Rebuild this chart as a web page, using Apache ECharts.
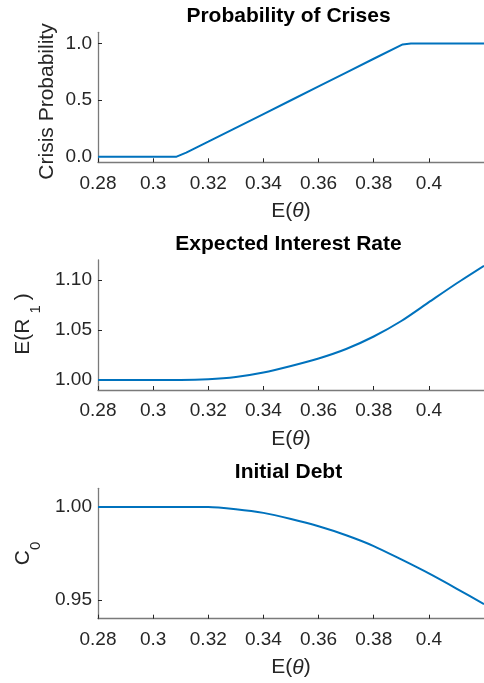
<!DOCTYPE html>
<html>
<head>
<meta charset="utf-8">
<script src="https://cdn.jsdelivr.net/npm/echarts@6/dist/echarts.min.js"></script>
<style>
  html, body { margin: 0; padding: 0; background: #ffffff; }
  #chart { width: 484px; height: 683px; }
</style>
</head>
<body>
<div id="chart"></div>
<script>
// Shared tick positions along E(theta)
const thetaTicks = [0.28, 0.30, 0.32, 0.34, 0.36, 0.38, 0.40];

// Panel 1: probability of crises
const thetaCrisis = [0.28, 0.29, 0.30, 0.3085, 0.312, 0.32, 0.33, 0.34, 0.35, 0.36, 0.37, 0.38, 0.3905, 0.3935, 0.40, 0.41, 0.42];
const crisisProb  = [0, 0, 0, 0, 0.035, 0.132, 0.255, 0.377, 0.499, 0.621, 0.744, 0.866, 0.993, 1.0, 1.0, 1.0, 1.0];
const crisisTicks = [0, 0.5, 1.0];

// Panels 2 and 3 share one theta grid
const thetaGrid    = [0.28, 0.29, 0.30, 0.31, 0.32, 0.33, 0.34, 0.35, 0.36, 0.37, 0.38, 0.39, 0.40, 0.41, 0.42];
const expectedRate = [1.0, 1.0, 1.0, 1.0, 1.0007, 1.003, 1.0075, 1.014, 1.0215, 1.031, 1.0435, 1.059, 1.0778, 1.0965, 1.1142];
const rateTicks    = [1.00, 1.05, 1.10];

const initialDebt  = [1.0, 1.0, 1.0, 1.0, 1.0, 0.9988, 0.9968, 0.9935, 0.9896, 0.9848, 0.979, 0.9718, 0.9643, 0.9562, 0.9478];
const debtTicks    = [0.95, 1.00];

const panelTitles = ['Probability of Crises', 'Expected Interest Rate', 'Initial Debt'];

const FONT = "'Liberation Sans', Arial, Helvetica, sans-serif";
const INK = '#262626';
const AXIS = '#7a7a7a';
const BLUE = '#0072BD';

const panels = [
  { top: 32.3, height: 130, yMin: -0.05, yMax: 1.1,  ticks: crisisTicks, digits: 1, x: thetaCrisis, y: crisisProb,   smooth: false, titleTop: 5.3 },
  { top: 260,  height: 130, yMin: 0.99,  yMax: 1.12, ticks: rateTicks,   digits: 2, x: thetaGrid,   y: expectedRate, smooth: 0.25,  titleTop: 233.3 },
  { top: 488.3, height: 130.4, yMin: 0.94, yMax: 1.01, ticks: debtTicks, digits: 2, x: thetaGrid,   y: initialDebt,  smooth: 0.25,  titleTop: 461.5 }
];

const GRID_LEFT = 98;
const GRID_RIGHT = -4.4;

const chart = echarts.init(document.getElementById('chart'), null, { renderer: 'canvas' });

const option = {
  animation: false,
  backgroundColor: '#ffffff',
  title: panels.map((p, i) => ({
    text: panelTitles[i],
    left: 288.5,
    top: p.titleTop,
    textAlign: 'center',
    padding: 0,
    textStyle: { fontSize: 21, fontWeight: 'bold', color: '#000000', fontFamily: FONT, lineHeight: 21 }
  })),
  grid: panels.map(p => ({
    left: GRID_LEFT, right: GRID_RIGHT, top: p.top, height: p.height, containLabel: false
  })),
  xAxis: panels.map((p, i) => ({
    type: 'value',
    gridIndex: i,
    min: 0.28,
    max: 0.42,
    axisLine: { show: true, onZero: false, lineStyle: { color: AXIS, width: 1.3 } },
    axisTick: { show: true, inside: true, length: 4, customValues: thetaTicks, lineStyle: { color: INK, width: 1 } },
    axisLabel: {
      customValues: thetaTicks,
      formatter: v => String(+v.toFixed(2)),
      color: INK, fontSize: 19, fontFamily: FONT, margin: 11.5, lineHeight: 19
    },
    splitLine: { show: false },
    name: '{n|E(}{t|θ}{n|)}',
    nameLocation: 'middle',
    nameGap: 38.5,
    nameTextStyle: {
      rich: {
        n: { fontSize: 21, fontFamily: FONT, color: INK, lineHeight: 21 },
        t: { fontSize: 21, fontFamily: FONT, color: INK, lineHeight: 21, fontStyle: 'italic' }
      }
    }
  })),
  yAxis: panels.map((p, i) => ({
    type: 'value',
    gridIndex: i,
    min: p.yMin,
    max: p.yMax,
    axisLine: { show: true, onZero: false, lineStyle: { color: AXIS, width: 1.3 } },
    axisTick: { show: true, inside: true, length: 4, customValues: p.ticks, lineStyle: { color: INK, width: 1 } },
    axisLabel: {
      customValues: p.ticks,
      formatter: v => v.toFixed(p.digits),
      color: INK, fontSize: 19, fontFamily: FONT, margin: 6
    },
    splitLine: { show: false }
  })),
  series: panels.map((p, i) => ({
    type: 'line',
    xAxisIndex: i,
    yAxisIndex: i,
    data: p.x.map((v, k) => [v, p.y[k]]),
    showSymbol: false,
    smooth: p.smooth,
    lineStyle: { color: BLUE, width: 2 },
    itemStyle: { color: BLUE },
    clip: true
  })),
  graphic: [
    {
      type: 'text', x: 47.5, y: 101.5, rotation: Math.PI / 2,
      style: { text: 'Crisis Probability', fontSize: 21, fontFamily: FONT, fill: INK, align: 'center', verticalAlign: 'middle' }
    },
    {
      type: 'text', x: 12.8, y: 324, rotation: Math.PI / 2,
      style: {
        text: '{b|E(R}{s|1}{b|)}',
        align: 'center', verticalAlign: 'top',
        rich: {
          b: { fontSize: 21, fontFamily: FONT, fill: INK, lineHeight: 21, verticalAlign: 'top' },
          s: { fontSize: 15, fontFamily: FONT, fill: INK, lineHeight: 15, verticalAlign: 'top', padding: [15.5, 5, 0, 5] }
        }
      }
    },
    {
      type: 'text', x: 13.2, y: 553.5, rotation: Math.PI / 2,
      style: {
        text: '{b|C}{s|0}',
        align: 'center', verticalAlign: 'top',
        rich: {
          b: { fontSize: 21, fontFamily: FONT, fill: INK, lineHeight: 21, verticalAlign: 'top' },
          s: { fontSize: 15, fontFamily: FONT, fill: INK, lineHeight: 15, verticalAlign: 'top', padding: [15.5, 0, 0, 0] }
        }
      }
    }
  ]
};

chart.setOption(option);
</script>
</body>
</html>
